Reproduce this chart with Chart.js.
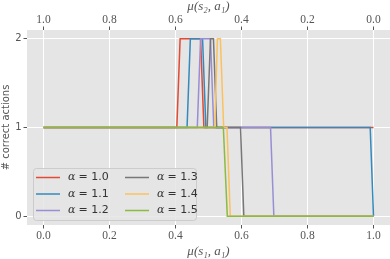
<!DOCTYPE html>
<html>
<head>
<meta charset="utf-8">
<script src="https://cdn.jsdelivr.net/npm/chart.js@4"></script>
<style>
  html, body { margin: 0; padding: 0; background: #ffffff; }
  #wrap { width: 390px; height: 259px; }
</style>
</head>
<body>
<div id="wrap"><canvas id="chart-canvas" width="390" height="259"></canvas></div>
<script>
// alpha labels and line colours (ggplot style cycle)
const alphaValues = ["1.0", "1.1", "1.2", "1.3", "1.4", "1.5"];
const lineColors = ["#E24A33", "#348ABD", "#988ED5", "#777777", "#FBC15E", "#8EBA42"];

// mu(s1, a1) breakpoints and # correct actions, one pair per alpha
const muA10 = [0, 0.404, 0.414, 0.476, 0.486, 1.0];
const correctA10 = [1, 1, 2, 2, 1, 1];
const muA11 = [0, 0.435, 0.445, 0.482, 0.492, 0.99, 1.0];
const correctA11 = [1, 1, 2, 2, 1, 1, 0];
const muA12 = [0, 0.466, 0.476, 0.506, 0.516, 0.688, 0.698, 1.0];
const correctA12 = [1, 1, 2, 2, 1, 1, 0, 0];
const muA13 = [0, 0.496, 0.506, 0.515, 0.525, 0.597, 0.607, 1.0];
const correctA13 = [1, 1, 2, 2, 1, 1, 0, 0];
const muA14 = [0, 0.519, 0.527, 0.536, 0.546, 0.556, 0.566, 1.0];
const correctA14 = [1, 1, 2, 2, 1, 1, 0, 0];
const muA15 = [0, 0.545, 0.557, 1.0];
const correctA15 = [1, 1, 0, 0];

// tick labels
const xTicks = [0, 0.2, 0.4, 0.6, 0.8, 1.0];
const yTicks = [0, 1, 2];

const seriesMu = [muA10, muA11, muA12, muA13, muA14, muA15];
const seriesCorrect = [correctA10, correctA11, correctA12, correctA13, correctA14, correctA15];

const datasets = alphaValues.map(function (a, i) {
  return {
    label: "α = " + a,
    data: seriesMu[i].map(function (m, j) { return { x: m, y: seriesCorrect[i][j] }; }),
    borderColor: lineColors[i],
    backgroundColor: lineColors[i],
    borderWidth: 1.5,
    pointRadius: 0,
    tension: 0,
    fill: false,
    order: alphaValues.length - i, // later alphas drawn on top, like matplotlib
  };
});

const tickGray = "#555555";

// grey panel behind the plot
const panelBackground = {
  id: "panelBackground",
  beforeDraw(chart) {
    const { ctx, chartArea } = chart;
    ctx.save();
    ctx.fillStyle = "#E5E5E5";
    ctx.fillRect(chartArea.left, chartArea.top, chartArea.right - chartArea.left, chartArea.bottom - chartArea.top);
    ctx.restore();
  },
};

// two column legend in the lower left corner of the panel
const innerLegend = {
  id: "innerLegend",
  afterDatasetsDraw(chart) {
    const { ctx, chartArea } = chart;
    const boxX = chartArea.left + 6;
    const boxY = chartArea.bottom - 57;
    const boxW = 163;
    const boxH = 52;
    ctx.save();
    ctx.beginPath();
    ctx.roundRect(boxX + 0.5, boxY + 0.5, boxW, boxH, 3);
    ctx.fillStyle = "rgba(229,229,229,0.85)";
    ctx.fill();
    ctx.strokeStyle = "#CCCCCC";
    ctx.lineWidth = 1;
    ctx.stroke();

    alphaValues.forEach(function (a, i) {
      const col = Math.floor(i / 3);
      const row = i % 3;
      const lx = boxX + 3 + col * 89;
      const ly = boxY + 9.5 + row * 16.5;
      ctx.beginPath();
      ctx.moveTo(lx, ly);
      ctx.lineTo(lx + 24, ly);
      ctx.strokeStyle = lineColors[i];
      ctx.lineWidth = 1.5;
      ctx.stroke();

      ctx.fillStyle = "#333333";
      ctx.textBaseline = "middle";
      ctx.textAlign = "left";
      ctx.font = "italic 11px 'DejaVu Serif'";
      ctx.fillText("α", lx + 32, ly);
      ctx.font = "11px 'DejaVu Sans'";
      ctx.fillText(" = " + a, lx + 39, ly);
    });
    ctx.restore();
  },
};

const ctx = document.getElementById("chart-canvas").getContext("2d");

new Chart(ctx, {
  type: "line",
  plugins: [panelBackground, innerLegend],
  data: { datasets: datasets },
  options: {
    responsive: false,
    animation: false,
    layout: { padding: 0 },
    scales: {
      x: {
        type: "linear",
        position: "bottom",
        min: -0.05,
        max: 1.05,
        afterBuildTicks: function (axis) { axis.ticks = xTicks.map(function (v) { return { value: v }; }); },
        afterFit: function (scale) { scale.height = 34; },
        border: { display: false },
        grid: { color: "#FFFFFF", lineWidth: 1, tickColor: tickGray, tickLength: 3.5 },
        ticks: {
          color: tickGray,
          padding: 1.5,
          maxRotation: 0,
          font: { family: "'Liberation Serif'", size: 11.5, lineHeight: 1 },
          callback: function (v) { return v.toFixed(1); },
        },
        title: {
          display: true,
          text: "μ(s₁, a₁)",
          color: tickGray,
          font: { family: "'Liberation Serif'", size: 13, style: "italic", lineHeight: 1 },
          padding: { top: 0, bottom: 1 },
        },
      },
      x2: {
        type: "linear",
        position: "top",
        display: true,
        reverse: true,
        min: -0.05,
        max: 1.05,
        afterBuildTicks: function (axis) { axis.ticks = xTicks.map(function (v) { return { value: v }; }); },
        afterFit: function (scale) { scale.height = 30; },
        border: { display: false },
        grid: { drawOnChartArea: false, tickColor: tickGray, tickLength: 3.5 },
        ticks: {
          color: tickGray,
          padding: 1,
          maxRotation: 0,
          font: { family: "'Liberation Serif'", size: 11.5, lineHeight: 1 },
          callback: function (v) { return v.toFixed(1); },
        },
        title: {
          display: true,
          text: "μ(s₂, a₁)",
          color: tickGray,
          font: { family: "'Liberation Serif'", size: 13, style: "italic", lineHeight: 1 },
          padding: { top: 0, bottom: 0 },
        },
      },
      y: {
        type: "linear",
        min: -0.1,
        max: 2.1,
        afterBuildTicks: function (axis) { axis.ticks = yTicks.map(function (v) { return { value: v }; }); },
        afterFit: function (scale) { scale.width = 27; },
        border: { display: false },
        grid: { color: "#FFFFFF", lineWidth: 1, tickColor: tickGray, tickLength: 3.5 },
        ticks: {
          color: tickGray,
          padding: 2,
          font: { family: "'DejaVu Sans'", size: 10 },
          callback: function (v) { return String(v); },
        },
        title: {
          display: true,
          text: "# correct actions",
          color: tickGray,
          font: { family: "'DejaVu Sans'", size: 10 },
          padding: { top: 0, bottom: 0 },
        },
      },
    },
    plugins: {
      legend: { display: false },
      tooltip: { enabled: false },
    },
  },
});
</script>
</body>
</html>
